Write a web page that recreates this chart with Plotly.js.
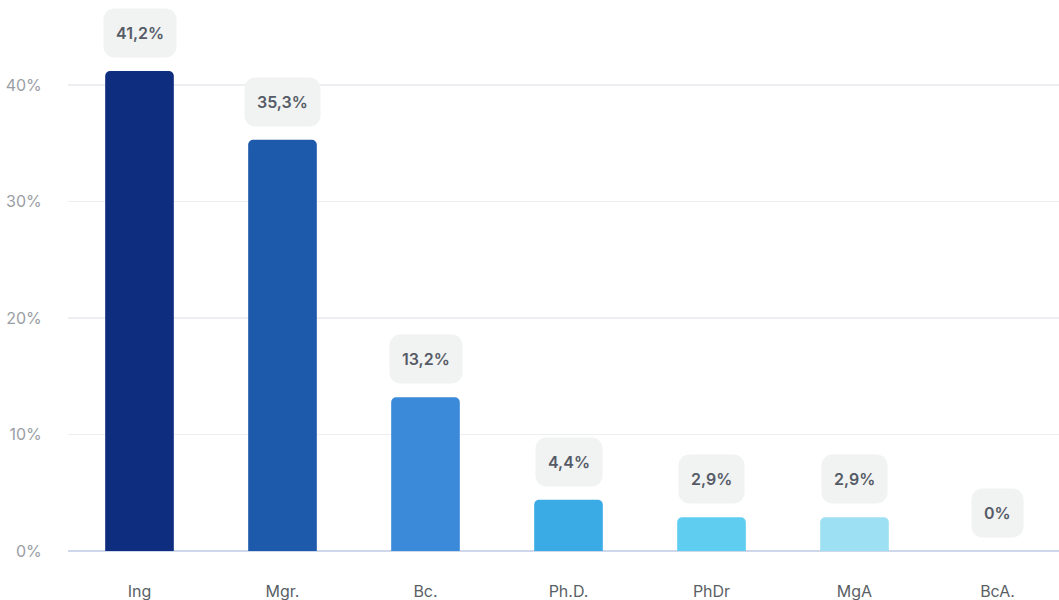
<!DOCTYPE html>
<html>
<head>
<meta charset="utf-8">
<script src="https://cdn.plot.ly/plotly-3.0.1.min.js"></script>
<style>html,body{margin:0;padding:0;background:#fff;}#chart{width:1059px;height:600px;}</style>
</head>
<body>
<div id="chart"></div>
<script>
const categories = ["Ing", "Mgr.", "Bc.", "Ph.D.", "PhDr", "MgA", "BcA."];
const values = [41.2, 35.3, 13.2, 4.4, 2.9, 2.9, 0];
const valueLabels = ["41,2%", "35,3%", "13,2%", "4,4%", "2,9%", "2,9%", "0%"];
const barColors = ["#0f2d7e", "#1e5aab", "#3a8ad9", "#3aabe5", "#5ecdf0", "#9de0f3", "#c9eef9"];
const yTicks = [0, 10, 20, 30, 40];
const yTickLabels = ["0%", "10%", "20%", "30%", "40%"];

const trace = {
  type: "bar",
  x: categories,
  y: values,
  marker: { color: barColors, cornerradius: 5 },
  hoverinfo: "none"
};

const annotations = categories.map((c, i) => ({
  x: c, y: values[i], xref: "x", yref: "y",
  text: valueLabels[i],
  showarrow: false,
  yanchor: "bottom",
  yshift: 13,
  bgcolor: "#f1f2f2",
  borderpad: 12,
  height: 24,
  font: { family: "Inter, sans-serif", size: 16, weight: 600, color: "#555b66" }
}));

const layout = {
  width: 1059, height: 600,
  margin: { l: 68, r: 0, t: 0, b: 49 },
  paper_bgcolor: "#fff", plot_bgcolor: "#fff",
  bargap: 0.52,
  showlegend: false,
  font: { family: "Inter, sans-serif" },
  xaxis: {
    range: [-0.5, 6.43],
    showgrid: false, zeroline: false, showline: false,
    ticks: "outside", ticklen: 26, tickcolor: "rgba(0,0,0,0)",
    tickfont: { size: 16, color: "#5a5f66" },
    fixedrange: true
  },
  yaxis: {
    range: [0, 47.3],
    tickvals: yTicks, ticktext: yTickLabels,
    showgrid: true, gridcolor: "#eceef1", gridwidth: 1.5,
    zeroline: true, zerolinecolor: "#cfd8ea", zerolinewidth: 2,
    ticks: "outside", ticklen: 22, tickcolor: "rgba(0,0,0,0)",
    tickfont: { size: 16, color: "#9a9ea4" },
    fixedrange: true
  },
  annotations: annotations
};

Plotly.newPlot("chart", [trace], layout, { displayModeBar: false, staticPlot: true }).then(() => {
  document.querySelectorAll(".annotation rect.bg").forEach(r => {
    r.setAttribute("rx", 11); r.setAttribute("ry", 11);
  });
});
</script>
</body>
</html>
